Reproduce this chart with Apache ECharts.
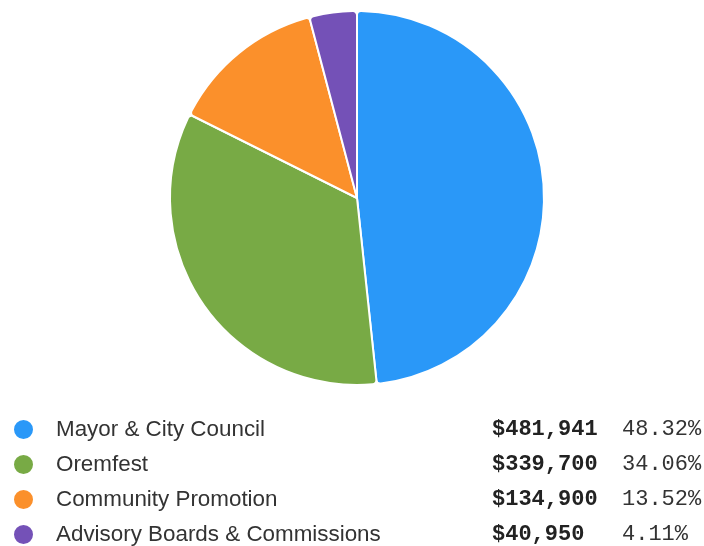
<!DOCTYPE html>
<html>
<head>
<meta charset="utf-8">
<script src="https://cdn.jsdelivr.net/npm/echarts@6/dist/echarts.min.js"></script>
<style>
  html, body { margin: 0; padding: 0; background: #fff; }
  #chart { width: 704px; height: 546px; }
</style>
</head>
<body>
<div id="chart"></div>
<script>
// Budget categories and amounts
const categories = ['Mayor & City Council', 'Oremfest', 'Community Promotion', 'Advisory Boards & Commissions'];
const amounts = [481941, 339700, 134900, 40950];
const shares = ['48.32%', '34.06%', '13.52%', '4.11%'];
const colors = ['#2a98f8', '#78aa45', '#fb902b', '#7451b7'];

const chart = echarts.init(document.getElementById('chart'), null, { renderer: 'canvas' });

const pieData = categories.map((name, i) => ({ name: name, value: amounts[i] }));

function money(v) {
  return '$' + v.toLocaleString('en-US');
}

chart.setOption({
  animation: false,
  color: colors,
  legend: {
    orient: 'vertical',
    left: 7,
    top: 413,
    height: 160,
    padding: 5,
    icon: 'circle',
    itemWidth: 21,
    itemHeight: 21,
    itemGap: 12,
    selectedMode: false,
    data: categories,
    formatter: function (name) {
      const i = categories.indexOf(name);
      return '{n|' + name + '}{v|' + money(amounts[i]) + '}{p|' + shares[i] + '}';
    },
    textStyle: {
      fontSize: 22,
      lineHeight: 21,
      rich: {
        n: { width: 436, padding: [0, 0, 0, 17], fontFamily: 'Liberation Sans', fontSize: 22.4, lineHeight: 21, color: '#333333' },
        v: { width: 130, fontFamily: 'Liberation Mono', fontWeight: 'bold', fontSize: 22, lineHeight: 21, color: '#222222' },
        p: { fontFamily: 'Liberation Mono', fontSize: 22, lineHeight: 21, color: '#333333' }
      }
    }
  },
  series: [{
    type: 'pie',
    center: [357, 198],
    radius: [0, 187],
    startAngle: 90,
    clockwise: true,
    label: { show: false },
    labelLine: { show: false },
    itemStyle: { borderColor: '#ffffff', borderWidth: 2, borderRadius: 4 },
    data: pieData
  }]
});
</script>
</body>
</html>
